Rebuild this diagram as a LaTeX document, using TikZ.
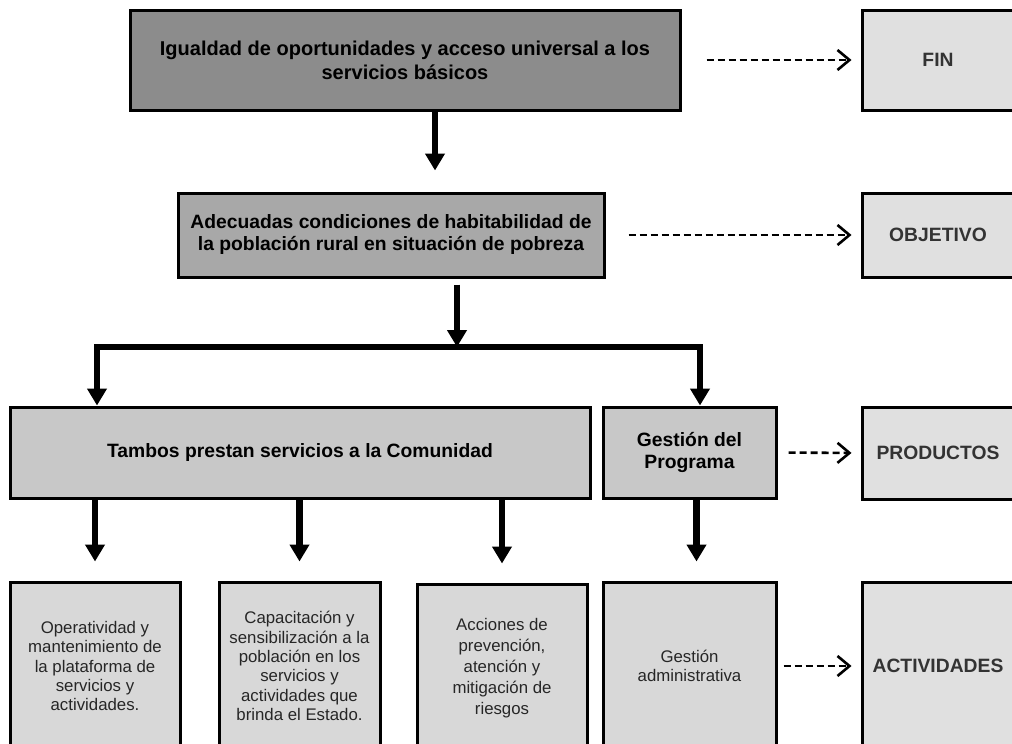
\documentclass[tikz,border=0pt]{standalone}
\usepackage{fontspec}
\setmainfont{Liberation Sans}
\usetikzlibrary{arrows.meta}
\definecolor{finfill}{RGB}{140,140,140}
\definecolor{objfill}{RGB}{168,168,168}
\definecolor{prodfill}{RGB}{200,200,200}
\definecolor{actfill}{RGB}{216,216,216}
\definecolor{tagfill}{RGB}{224,224,224}
\definecolor{tagtext}{RGB}{51,51,51}

\begin{document}
\begin{tikzpicture}[
      x=1pt, y=-1pt,
      box/.style={draw, line width=3pt, align=center, inner sep=4pt},
      head/.style={box, font=\bfseries\fontsize{19.3}{22}\selectfont},
      act/.style={box, fill=actfill, text=black!85,
        font=\fontsize{16.8}{19.4}\selectfont, minimum height=168pt},
      tag/.style={box, fill=tagfill, text=tagtext, minimum width=152pt,
        font=\bfseries\fontsize{19.3}{22}\selectfont},
      arr/.style={-{Triangle[length=17pt, width=19pt]}, line width=6.5pt},
      dasharr/.style={-{Straight Barb[length=12pt, width=20pt]},
        line width=2.6pt, dash pattern=on 7pt off 4pt}
    ]
    \useasboundingbox (0,0) rectangle (1012,744);
    \fill[white] (0,0) rectangle (1012,744);
    \clip (0,0) rectangle (1012,744);

    \node[head, fill=finfill, minimum width=550pt, minimum height=100pt,
      font=\bfseries\fontsize{20}{24}\selectfont] (igual) at (405,60)
      {Igualdad de oportunidades y acceso universal a los\\servicios básicos};
    \node[head, fill=objfill, minimum width=426pt, minimum height=84pt] (habit) at (391,235)
      {Adecuadas condiciones de habitabilidad de\\la población rural en situación de pobreza};
    \node[head, fill=prodfill, minimum width=580pt, minimum height=91pt] (tambos) at (300,452.5)
      {Tambos prestan servicios a la Comunidad};
    \node[head, fill=prodfill, minimum width=173pt, minimum height=91pt] (gprog) at (689.5,452.5)
      {Gestión del\\Programa};

    \node[act, minimum width=170pt] (oper) at (95,666)
      {Operatividad y\\mantenimiento de\\la plataforma de\\servicios y\\actividades.};
    \node[act, minimum width=161pt] (capac) at (299.5,666)
      {Capacitación y\\sensibilización a la\\población en los\\servicios y\\actividades que\\brinda el Estado.};
    \node[act, minimum width=170pt, font=\fontsize{16.8}{21}\selectfont] (accion) at (502,668)
      {Acciones de\\prevención,\\atención y\\mitigación de\\riesgos};
    \node[act, minimum width=173pt] (gadm) at (689.5,666)
      {Gestión\\administrativa};

    \node[tag, minimum height=100pt] (fin) at (938,60) {FIN};
    \node[tag, minimum height=84pt] (obj) at (938,235) {OBJETIVO};
    \node[tag, minimum height=92pt] (prod) at (938,453) {PRODUCTOS};
    \node[tag, minimum height=168pt] (activ) at (938,666) {ACTIVIDADES};

    \coordinate (bL) at (97,347);
    \coordinate (bR) at (700,347);

    \draw[arr, shorten >=21pt] ([xshift=30pt]igual.south) -- ([xshift=30pt]igual.south |- habit.north);
    \draw[arr, shorten <=6pt] ([xshift=66pt]habit.south) -- ([xshift=66pt]habit.south |- bL);
    \draw[line width=6pt, line cap=rect] (bL) -- (bR);
    \draw[arr] (bL) -- (bL |- tambos.north);
    \draw[arr] (bR) -- (bR |- gprog.north);
    \foreach \b in {oper, capac, accion}
      \draw[arr, shorten >=19pt] (\b.north |- tambos.south) -- (\b.north);
    \draw[arr, shorten >=19pt] ([xshift=7pt]gprog.south) -- ([xshift=7pt]gadm.north);

    \draw[dasharr, shorten <=25pt, shorten >=9pt] (igual.east) -- (fin.west);
    \draw[dasharr, shorten <=23pt, shorten >=9pt] (habit.east) -- (obj.west);
    \draw[dasharr, shorten <=11pt, shorten >=9pt] (gprog.east) -- (prod.west);
    \draw[dasharr, shorten <=6pt, shorten >=9pt] (gadm.east) -- (activ.west);
  \end{tikzpicture}
\end{document}
